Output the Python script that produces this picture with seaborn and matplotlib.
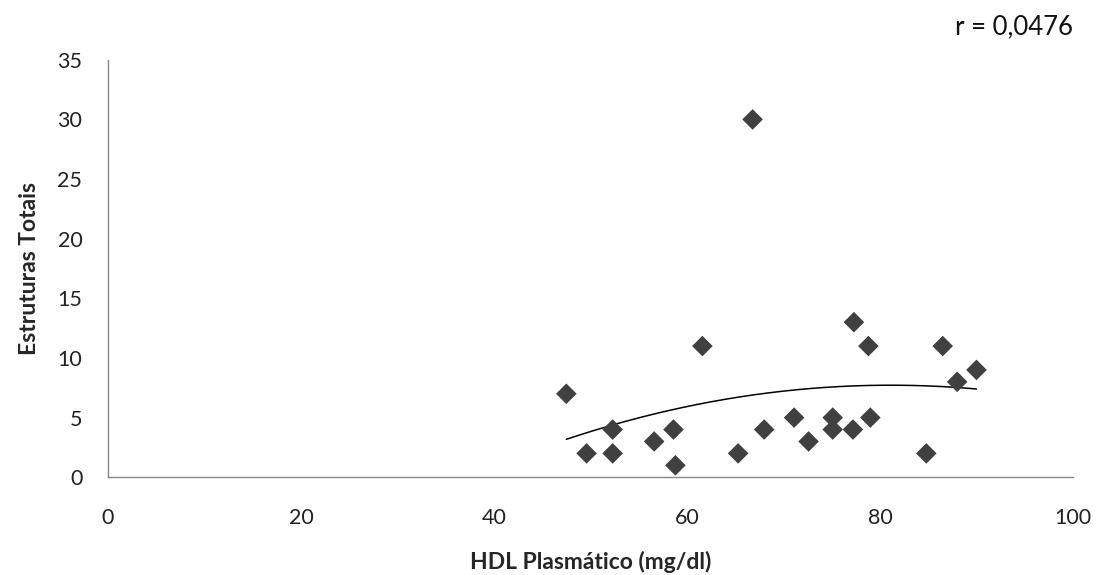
import numpy as np
import pandas as pd
import matplotlib
matplotlib.use("Agg")
import matplotlib.pyplot as plt
import seaborn as sns

hdl = [47.5, 49.6, 52.3, 52.3, 56.6, 58.6, 58.8, 61.6, 66.8, 65.3, 68.0,
       71.1, 72.6, 75.1, 75.1, 77.3, 77.2, 78.8, 79.0, 84.8, 86.5, 88.0, 90.0]
estruturas = [7, 2, 4, 2, 3, 4, 1, 11, 30, 2, 4,
              5, 3, 5, 4, 13, 4, 11, 5, 2, 11, 8, 9]
r_label = "r = 0,0476"

data = pd.DataFrame({"HDL": hdl, "Estruturas": estruturas})

sns.set_style("white")
plt.rcParams["font.family"] = ["Lato", "DejaVu Sans"]

fig = plt.figure(figsize=(10.96, 5.75), dpi=100)
ax = fig.add_axes([0.0985, 0.170, 0.8805, 0.726])

sns.scatterplot(data=data, x="HDL", y="Estruturas", marker="D", s=110,
                color="#404040", edgecolor="none", linewidth=0, ax=ax, zorder=3)

# polynomial (2nd order) trend line like Excel
coef = np.polyfit(data["HDL"], data["Estruturas"], 2)
xs = np.linspace(data["HDL"].min(), data["HDL"].max(), 200)
ax.plot(xs, np.polyval(coef, xs), color="black", lw=1.1, zorder=2)

ax.set_xlim(0, 100)
ax.set_ylim(0, 35)
ax.set_xticks(range(0, 101, 20))
ax.set_yticks(range(0, 36, 5))

for side in ["top", "right"]:
    ax.spines[side].set_visible(False)
for side in ["left", "bottom"]:
    ax.spines[side].set_color("#868686")
    ax.spines[side].set_linewidth(1)

ax.tick_params(axis="both", direction="out", length=6.5, width=1, color="#868686",
               labelsize=15.5, labelcolor="#222222")
ax.tick_params(axis="x", pad=15.5)
ax.tick_params(axis="y", pad=12)

ax.set_xlabel("HDL Plasmático (mg/dl)", fontsize=16.5, fontweight="bold", va="center")
ax.set_ylabel("Estruturas Totais", fontsize=16.5, fontweight="bold", va="center")
ax.xaxis.set_label_coords(0.5, -0.204)
ax.yaxis.set_label_coords(-0.081, 0.5)

fig.text(0.979, 0.953, r_label, ha="right", va="center", fontsize=18.5, color="#111111")

fig.savefig("out.png", dpi=100)
